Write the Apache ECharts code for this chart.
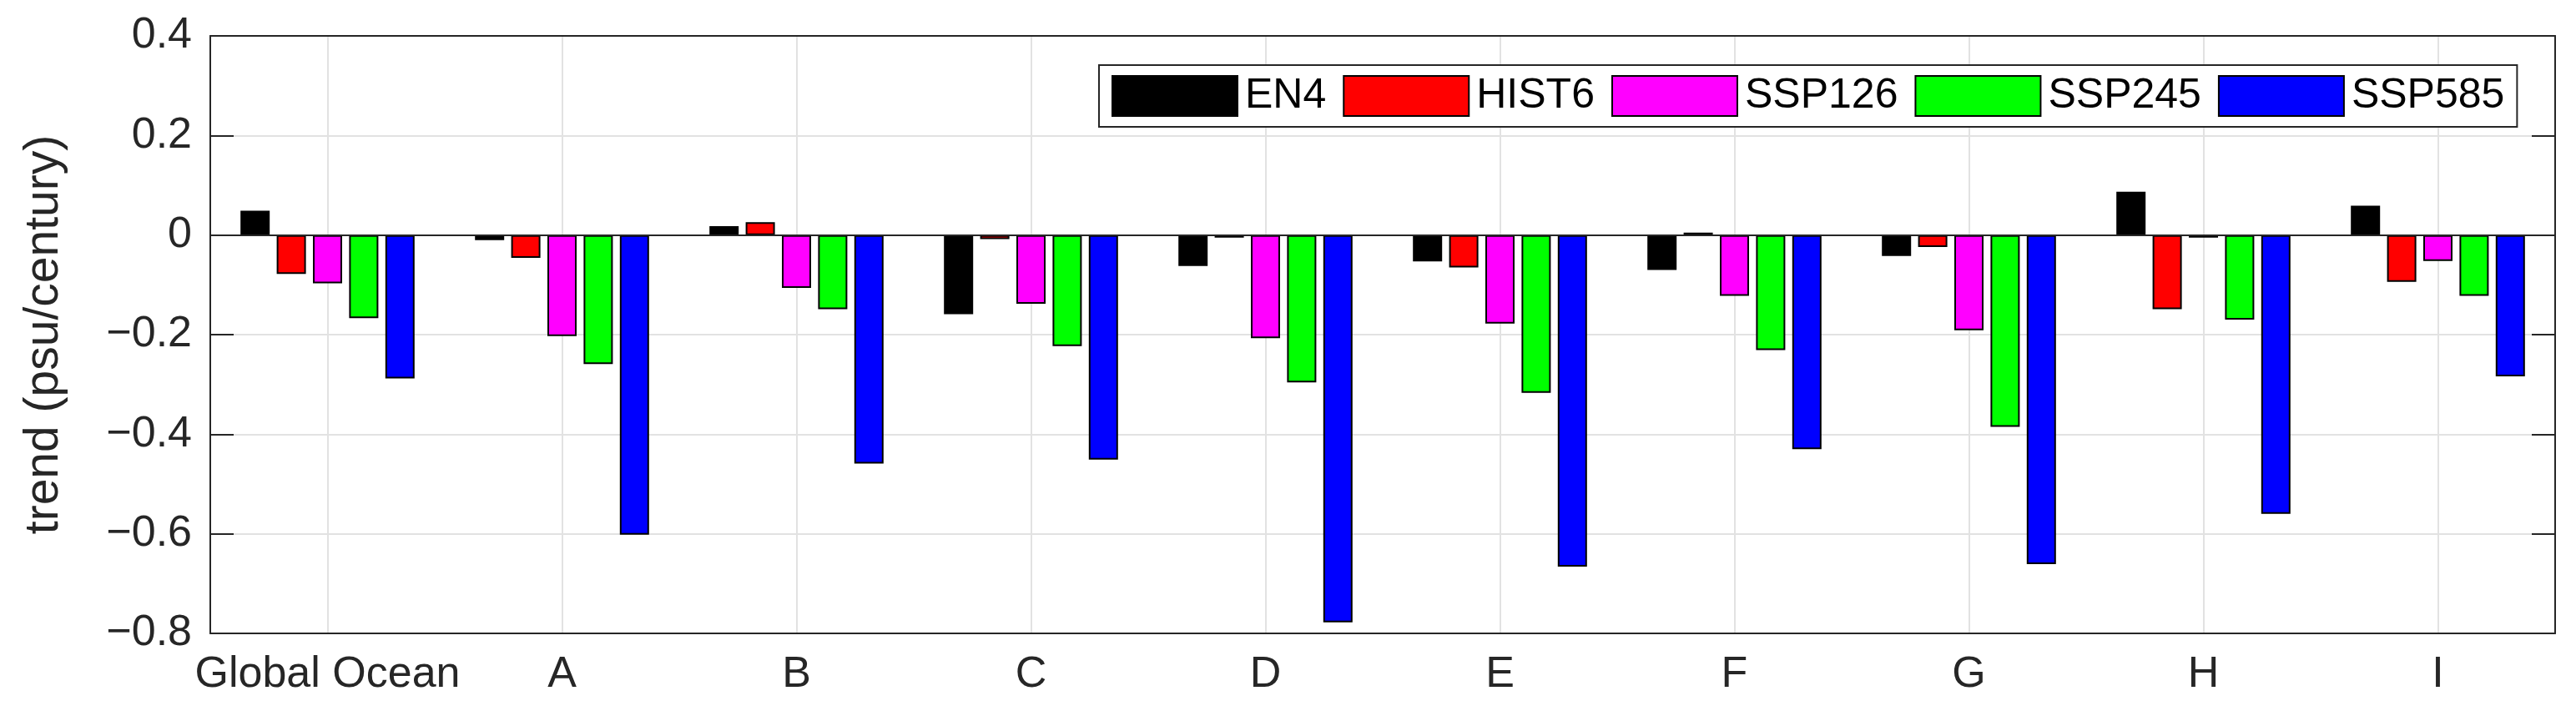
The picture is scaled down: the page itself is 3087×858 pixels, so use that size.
<!DOCTYPE html>
<html>
<head>
<meta charset="utf-8">
<script src="https://cdn.jsdelivr.net/npm/echarts@6/dist/echarts.min.js"></script>
<style>
  html, body { margin: 0; padding: 0; background: #fff; }
  #J-bar-1 { width: 3087px; height: 858px; }
</style>
</head>
<body>
<div id="J-bar-1"></div>
<script>
// 区域
const regions = ['Global Ocean', 'A', 'B', 'C', 'D', 'E', 'F', 'G', 'H', 'I'];

// 各数据源的趋势 (psu/century)
const en4    = [0.049, -0.010, 0.018, -0.159, -0.062, -0.053, -0.070, -0.042, 0.087, 0.059];
const hist6  = [-0.078, -0.046, 0.026, -0.008, -0.005, -0.065, 0.005, -0.024, -0.149, -0.094];
const ssp126 = [-0.097, -0.203, -0.106, -0.138, -0.207, -0.178, -0.122, -0.191, -0.005, -0.052];
const ssp245 = [-0.167, -0.259, -0.149, -0.223, -0.296, -0.317, -0.231, -0.385, -0.170, -0.122];
const ssp585 = [-0.288, -0.602, -0.459, -0.451, -0.778, -0.666, -0.430, -0.661, -0.560, -0.284];

const seriesNames = ['EN4', 'HIST6', 'SSP126', 'SSP245', 'SSP585'];
const seriesData = [en4, hist6, ssp126, ssp245, ssp585];
const COLORS = ['#000000', '#ff0000', '#ff00ff', '#00ff00', '#0000ff'];

const AXIS = '#262626';
const FONT = 'Liberation Sans, Arial, sans-serif';

function tickLabel(v) {
    if (Math.abs(v) < 1e-9) return '0';
    return (v < 0 ? '\u2212' : '') + Math.abs(v).toFixed(1);
}

const series = seriesNames.map(function(name, i) {
    const s = {
        name: name,
        type: 'bar',
        data: seriesData[i],
        barWidth: 35,
        barGap: '24%',
        itemStyle: {
            color: COLORS[i],
            borderColor: '#000',
            borderWidth: 2
        }
    };
    if (i === seriesNames.length - 1) {
        // 零基线
        s.markLine = {
            silent: true,
            symbol: 'none',
            label: { show: false },
            lineStyle: { color: AXIS, width: 2, type: 'solid' },
            data: [{ yAxis: 0 }]
        };
    }
    return s;
});

const option = {
    animation: false,
    color: COLORS,
    textStyle: { fontFamily: FONT },
    grid: {
        left: 252,
        right: 25,
        top: 43,
        bottom: 99
    },
    legend: {
        data: seriesNames,
        left: 1317,
        top: 78,
        orient: 'horizontal',
        icon: 'rect',
        itemWidth: 150,
        itemHeight: 48,
        itemGap: 20,
        padding: [12, 15],
        borderColor: AXIS,
        borderWidth: 2,
        backgroundColor: '#fff',
        textStyle: {
            fontSize: 50,
            color: '#000',
            fontFamily: FONT,
            padding: [0, 0, 0, 4]
        }
    },
    xAxis: [
        {
            type: 'category',
            position: 'bottom',
            data: regions,
            axisLine: { onZero: false, lineStyle: { color: AXIS, width: 2 } },
            axisTick: { inside: true, length: 28, alignWithLabel: true, lineStyle: { color: AXIS, width: 2 } },
            axisLabel: { fontSize: 52, color: AXIS, margin: 24, interval: 0 },
            splitLine: {
                show: true,
                alignWithLabel: true,
                lineStyle: { color: '#e2e2e2', width: 2 }
            }
        },
        {
            type: 'category',
            position: 'top',
            data: regions,
            axisLine: { onZero: false, lineStyle: { color: AXIS, width: 2 } },
            axisTick: { inside: true, length: 28, alignWithLabel: true, lineStyle: { color: AXIS, width: 2 } },
            axisLabel: { show: false },
            splitLine: { show: false }
        }
    ],
    yAxis: [
        {
            type: 'value',
            position: 'left',
            min: -0.8,
            max: 0.4,
            interval: 0.2,
            name: 'trend (psu/century)',
            nameLocation: 'middle',
            nameGap: 170,
            nameTextStyle: { fontSize: 57, color: AXIS, fontFamily: FONT },
            axisLine: { show: true, onZero: false, lineStyle: { color: AXIS, width: 2 } },
            axisTick: { show: true, inside: true, length: 28, lineStyle: { color: AXIS, width: 2 } },
            axisLabel: { fontSize: 52, color: AXIS, margin: 22, formatter: tickLabel },
            splitLine: { show: true, lineStyle: { color: '#e2e2e2', width: 2 } }
        },
        {
            type: 'value',
            position: 'right',
            min: -0.8,
            max: 0.4,
            interval: 0.2,
            axisLine: { show: true, onZero: false, lineStyle: { color: AXIS, width: 2 } },
            axisTick: { show: true, inside: true, length: 28, lineStyle: { color: AXIS, width: 2 } },
            axisLabel: { show: false },
            splitLine: { show: false }
        }
    ],
    series: series
};

const chart = echarts.init(document.getElementById('J-bar-1'));
chart.setOption(option);
</script>
</body>
</html>
